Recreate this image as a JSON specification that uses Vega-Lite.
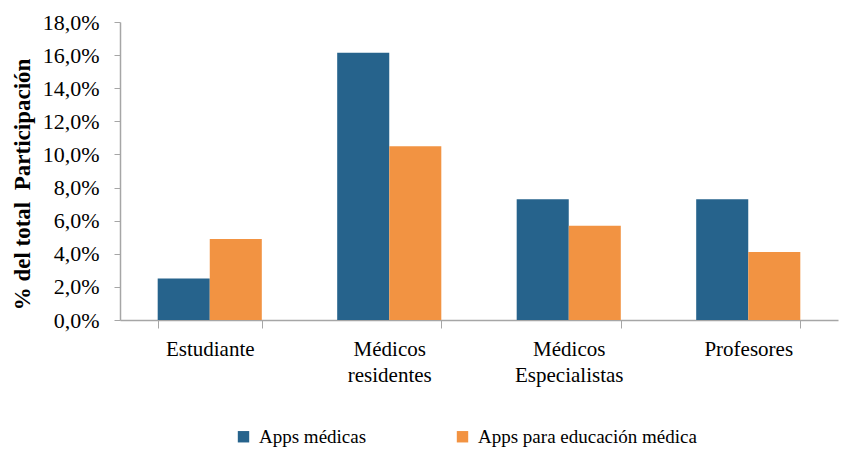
{
  "$schema": "https://vega.github.io/schema/vega-lite/v6.json",
  "width": 718,
  "height": 298,
  "autosize": {"type": "none"},
  "padding": {"left": 120, "top": 22, "right": 3, "bottom": 130},
  "background": "white",
  "data": {
    "values": [
      {"categoria": "Estudiante", "serie": "Apps médicas", "valor": 0.025},
      {"categoria": "Estudiante", "serie": "Apps para educación médica", "valor": 0.049},
      {"categoria": "Médicos residentes", "serie": "Apps médicas", "valor": 0.1615},
      {"categoria": "Médicos residentes", "serie": "Apps para educación médica", "valor": 0.105},
      {"categoria": "Médicos Especialistas", "serie": "Apps médicas", "valor": 0.073},
      {"categoria": "Médicos Especialistas", "serie": "Apps para educación médica", "valor": 0.057},
      {"categoria": "Profesores", "serie": "Apps médicas", "valor": 0.073},
      {"categoria": "Profesores", "serie": "Apps para educación médica", "valor": 0.041}
    ]
  },
  "mark": {"type": "bar"},
  "encoding": {
    "x": {
      "field": "categoria",
      "type": "nominal",
      "sort": ["Estudiante", "Médicos residentes", "Médicos Especialistas", "Profesores"],
      "scale": {"paddingInner": 0.42, "paddingOuter": 0.21},
      "axis": {
        "title": null,
        "labelAngle": 0,
        "labelFont": "Liberation Serif",
        "labelFontSize": 21,
        "labelColor": "#000000",
        "labelLineHeight": 26,
        "labelPadding": 10,
        "labelBaseline": "top",
        "labelExpr": "datum.label == 'Estudiante' || datum.label == 'Profesores' ? datum.label : split(datum.label, ' ')",
        "tickBand": "extent",
        "tickSize": 8,
        "tickColor": "#a6a6a6",
        "domainColor": "#a6a6a6",
        "domainWidth": 1.5,
        "grid": false
      }
    },
    "xOffset": {
      "field": "serie",
      "type": "nominal",
      "sort": ["Apps médicas", "Apps para educación médica"],
      "scale": {"paddingInner": 0, "paddingOuter": 0}
    },
    "y": {
      "field": "valor",
      "type": "quantitative",
      "scale": {"domain": [0, 0.18], "nice": false},
      "axis": {
        "title": "% del total \u00a0Participación",
        "titleFont": "Liberation Serif",
        "titleFontSize": 23,
        "titleFontWeight": "bold",
        "titleColor": "#000000",
        "titlePadding": 8,
        "titleY": 162,
        "titleAlign": "center",
        "values": [0, 0.02, 0.04, 0.06, 0.08, 0.1, 0.12, 0.14, 0.16, 0.18],
        "labelExpr": "replace(format(datum.value, '.1%'), '.', ',')",
        "labelFont": "Liberation Serif",
        "labelFontSize": 22,
        "labelColor": "#000000",
        "labelPadding": 15,
        "tickSize": 6,
        "tickColor": "#a6a6a6",
        "domainColor": "#a6a6a6",
        "domainWidth": 1.5,
        "grid": false
      }
    },
    "color": {
      "field": "serie",
      "type": "nominal",
      "sort": ["Apps médicas", "Apps para educación médica"],
      "scale": {"domain": ["Apps médicas", "Apps para educación médica"], "range": ["#26638C", "#F29342"]},
      "legend": {
        "title": null,
        "orient": "none",
        "direction": "horizontal",
        "legendX": 114,
        "legendY": 405,
        "symbolType": "square",
        "symbolSize": 130,
        "symbolStrokeWidth": 0,
        "labelFont": "Liberation Serif",
        "labelFontSize": 19,
        "labelColor": "#000000",
        "labelOffset": 6,
        "columnPadding": 86,
        "labelLimit": 400
      }
    }
  },
  "config": {"view": {"stroke": null}}
}
